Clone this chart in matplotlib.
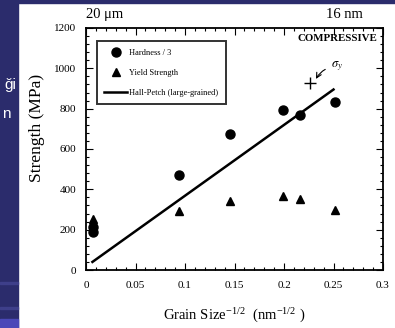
import numpy as np
import matplotlib
matplotlib.use('Agg')
import matplotlib.pyplot as plt
from matplotlib.patches import Rectangle
from matplotlib.ticker import MultipleLocator

plt.rcParams['font.family'] = ['Liberation Serif', 'DejaVu Serif']
plt.rcParams['mathtext.fontset'] = 'stix'

# values
hard_x = [0.007, 0.007, 0.094, 0.145, 0.199, 0.216, 0.252]
hard_y = [190, 215, 470, 675, 795, 770, 833]
yield_x = [0.007, 0.007, 0.094, 0.145, 0.199, 0.216, 0.252]
yield_y = [228, 252, 292, 341, 365, 354, 300]
hp_x = [0.0065, 0.25]
hp_y = [40, 895]
sy_x = [0.226]
sy_y = [925]

W, H = 395, 328
fig = plt.figure(figsize=(W/100, H/100), dpi=100)
# slide background strip on the left
navy = '#2b2c6c'
bw = 18
fig.patches.append(Rectangle((0, 0), bw/W, 1, transform=fig.transFigure, color=navy, zorder=-2))
fig.patches.append(Rectangle((0, 1 - 3/H), 1, 3/H, transform=fig.transFigure, color=navy, zorder=-2))
fig.patches.append(Rectangle((0, 44/H), bw/W, 2/H, transform=fig.transFigure, color='#3e3f8a', zorder=-1))
fig.patches.append(Rectangle((0, 19/H), bw/W, 2/H, transform=fig.transFigure, color='#3e3f8a', zorder=-1))
fig.patches.append(Rectangle((0, 0), bw/W, 9/H, transform=fig.transFigure, color='#4a48b8', zorder=-1))
fig.text(16/W, 1 - 89/H, 'ği', color='white', fontsize=11, family='Liberation Sans', ha='right', va='baseline')
fig.text(11/W, 1 - 118/H, 'n', color='white', fontsize=11, family='Liberation Sans', ha='right', va='baseline')

ax = fig.add_axes([86/W, 1 - 270/H, 297/W, 242/H])
ax.plot(hard_x, hard_y, 'o', color='black', ms=6.5, label='Hardness / 3')
ax.plot(yield_x, yield_y, '^', color='black', ms=6.3, label='Yield Strength')
ax.plot(hp_x, hp_y, '-', color='black', lw=1.8, label='Hall-Petch (large-grained)')
ax.plot(sy_x, sy_y, '+', color='black', ms=9, mew=1.0)

ax.annotate(r'$\sigma_y$', xy=(0.231, 935), xytext=(0.247, 1005), fontsize=9,
            arrowprops=dict(arrowstyle='->', color='black', lw=0.8, connectionstyle='arc3,rad=0.3'))
ax.text(0.98, 0.958, 'COMPRESSIVE', transform=ax.transAxes, ha='right', va='center',
        fontsize=7.8, fontweight='bold')
ax.text(0.0, 1.03, '20 μm', transform=ax.transAxes, ha='left', va='bottom', fontsize=10.5)
ax.text(0.87, 1.03, '16 nm', transform=ax.transAxes, ha='center', va='bottom', fontsize=10.5)

ax.set_xlim(0, 0.3)
ax.set_ylim(0, 1200)
ax.set_xticks([0, 0.05, 0.1, 0.15, 0.2, 0.25, 0.3])
ax.set_xticklabels(['0', '0.05', '0.1', '0.15', '0.2', '0.25', '0.3'])
ax.set_yticks(range(0, 1201, 200))
ax.xaxis.set_minor_locator(MultipleLocator(0.01))
ax.yaxis.set_minor_locator(MultipleLocator(40))
ax.tick_params(which='both', direction='in', top=True, right=True, labelsize=8, width=0.8)
ax.tick_params(which='major', length=5)
ax.tick_params(which='minor', length=2.5)
ax.tick_params(axis='x', pad=8)
ax.tick_params(axis='y', pad=7)
for s in ax.spines.values():
    s.set_linewidth(1.3)

ax.set_xlabel(r'Grain Size$^{\mathregular{-1/2}}$  (nm$^{\mathregular{-1/2}}$ )', fontsize=10.5)
ax.xaxis.set_label_coords(0.5, -0.145)
ax.set_ylabel('Strength (MPa)', fontsize=12.5)
ax.yaxis.set_label_coords(-0.138, 0.587)

leg = ax.legend(loc='upper left', bbox_to_anchor=(0.037, 0.945), fontsize=6.0, frameon=True,
                fancybox=False, edgecolor='black', handlelength=2.7, handletextpad=0.3,
                borderpad=0.9, labelspacing=1.45, borderaxespad=0)
leg.get_frame().set_linewidth(1.4)

fig.savefig('out.png', dpi=100)
